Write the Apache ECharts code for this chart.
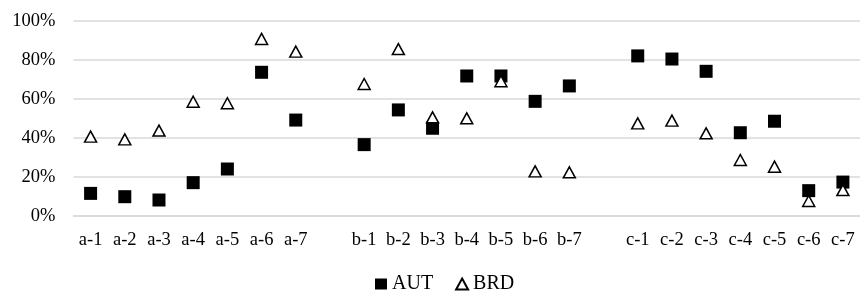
<!DOCTYPE html>
<html>
<head>
<meta charset="utf-8">
<script src="https://cdn.jsdelivr.net/npm/echarts@6/dist/echarts.min.js"></script>
<style>
  html, body { margin: 0; padding: 0; background: #fff; }
  #chart { width: 860px; height: 293px; }
</style>
</head>
<body>
<div id="chart"></div>
<script>
// categories, grouped; a blank slot separates the groups
var groupA = ['a-1', 'a-2', 'a-3', 'a-4', 'a-5', 'a-6', 'a-7'];
var groupB = ['b-1', 'b-2', 'b-3', 'b-4', 'b-5', 'b-6', 'b-7'];
var groupC = ['c-1', 'c-2', 'c-3', 'c-4', 'c-5', 'c-6', 'c-7'];

// values in %
var autA = [11.6, 9.9, 8.2, 17.1, 24.1, 73.7, 49.2];
var autB = [36.6, 54.4, 45.0, 71.8, 71.8, 58.8, 66.7];
var autC = [82.1, 80.5, 74.2, 42.7, 48.6, 13.0, 17.4];

var brdA = [40.7, 39.3, 43.8, 58.6, 57.8, 90.8, 84.3];
var brdB = [67.7, 85.6, 50.6, 50.1, 69.1, 22.9, 22.4];
var brdC = [47.5, 48.9, 42.4, 28.7, 25.3, 7.7, 13.3];

var categories = groupA.concat([''], groupB, [''], groupC);
var aut = autA.concat([null], autB, [null], autC);
var brd = brdA.concat([null], brdB, [null], brdC);

var font = '"Liberation Serif", "Times New Roman", serif';

var chart = echarts.init(document.getElementById('chart'));
chart.setOption({
  animation: false,
  textStyle: { fontFamily: font },
  grid: { left: 73.5, right: -9, top: 21, bottom: 77, containLabel: false },
  legend: {
    top: 269,
    left: 370,
    itemWidth: 12,
    itemHeight: 11,
    itemGap: 22,
    textStyle: { fontFamily: font, fontSize: 20, color: '#000' },
    data: ['AUT', 'BRD']
  },
  xAxis: {
    type: 'category',
    data: categories,
    boundaryGap: true,
    axisLine: { lineStyle: { color: '#d9d9d9', width: 1.5 } },
    axisTick: { show: false },
    axisLabel: { interval: 0, color: '#000', fontFamily: font, fontSize: 18.5, margin: 15 },
    splitLine: { show: false }
  },
  yAxis: {
    type: 'value',
    min: 0,
    max: 100,
    interval: 20,
    axisLine: { show: false },
    axisTick: { show: false },
    axisLabel: { color: '#000', fontFamily: font, fontSize: 18.5, margin: 18, formatter: '{value}%' },
    splitLine: { lineStyle: { color: '#d9d9d9', width: 1.5 } }
  },
  series: [
    {
      name: 'AUT',
      type: 'scatter',
      symbol: 'rect',
      symbolSize: 13,
      itemStyle: { color: '#000', opacity: 1 },
      data: aut
    },
    {
      name: 'BRD',
      type: 'scatter',
      symbol: 'triangle',
      symbolSize: [12, 11],
      itemStyle: { color: '#fff', borderColor: '#000', borderWidth: 1.5, opacity: 1 },
      data: brd
    }
  ]
});
</script>
</body>
</html>
